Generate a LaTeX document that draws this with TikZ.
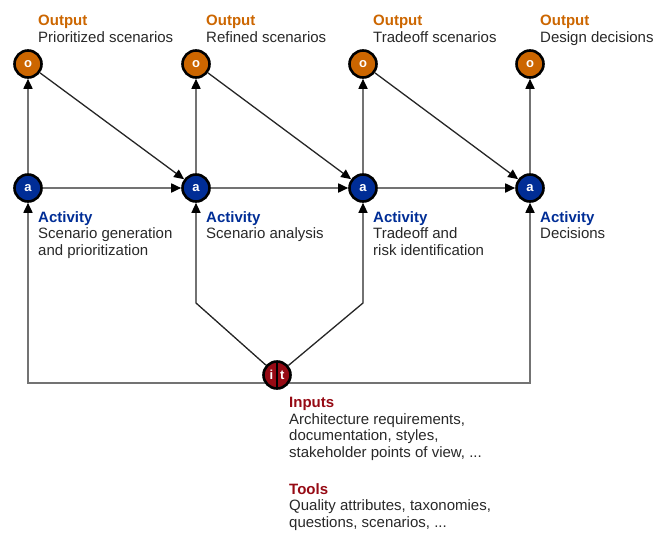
\documentclass[tikz,border=0pt]{standalone}
\usepackage{fontspec}
\setmainfont{Liberation Sans}
\usetikzlibrary{arrows.meta}
\definecolor{outorange}{RGB}{204,102,0}
\definecolor{actblue}{RGB}{0,45,150}
\definecolor{inred}{RGB}{150,10,20}
\definecolor{textgray}{RGB}{40,40,40}
\begin{document}
\begin{tikzpicture}[x=1pt,y=-1pt,
		every node/.append style={inner sep=0pt},
		dot/.style={circle,draw=black,line width=2.6pt,minimum size=27pt,text=white,font=\bfseries\fontsize{13}{13}\selectfont},
		outdot/.style={dot,fill=outorange},
		actdot/.style={dot,fill=actblue},
		caption/.style={anchor=north west,align=left,text=textgray,font=\fontsize{15}{16.5}\selectfont},
		flow/.style={draw=black!55,line width=1.7pt,-{Triangle[length=10pt,width=9pt,color=black]}},
		feed/.style={draw=black!85,line width=1.3pt,-{Triangle[length=10pt,width=9pt,color=black]}}]
	\useasboundingbox (0,0) rectangle (658,533);
	\foreach \x [count=\i] in {28,196,363,530} {
		\node[actdot] (a\i) at (\x,188) {a};
		\node[outdot] (o\i) at (\x,64) {o};
		\draw[flow] (a\i) -- (o\i);
	}
	\foreach \i [count=\j from 2] in {1,2,3} {
		\draw[flow] (a\i) -- (a\j);
		\draw[feed] (o\i) -- (a\j);
	}
	\node[caption] (out1) at (38,15) {\textcolor{outorange}{\bfseries Output}\\Prioritized scenarios};
	\node[caption] (out2) at (206,15) {\textcolor{outorange}{\bfseries Output}\\Refined scenarios};
	\node[caption] (out3) at (373,15) {\textcolor{outorange}{\bfseries Output}\\Tradeoff scenarios};
	\node[caption] (out4) at (540,15) {\textcolor{outorange}{\bfseries Output}\\Design decisions};
	\node[caption] (act1) at (38,211) {\textcolor{actblue}{\bfseries Activity}\\Scenario generation\\and prioritization};
	\node[caption] (act2) at (206,211) {\textcolor{actblue}{\bfseries Activity}\\Scenario analysis};
	\node[caption] (act3) at (373,211) {\textcolor{actblue}{\bfseries Activity}\\Tradeoff and\\risk identification};
	\node[caption] (act4) at (540,211) {\textcolor{actblue}{\bfseries Activity}\\Decisions};
	\coordinate (bus) at (277,383);
	\coordinate (k2) at (196,303);
	\coordinate (k3) at (363,303);
	\draw[flow] (bus) -| (a1);
	\draw[flow] (bus) -| (a4);
	\node[dot,fill=inred,path picture={\draw[line width=1.4pt] (path picture bounding box.north) -- (path picture bounding box.south);}] (it) at (277,375) {i\hspace{7pt}t};
	\draw[feed] (it) -- (k2) -- (a2);
	\draw[feed] (it) -- (k3) -- (a3);
	\node[caption] (inputs) at (289,397) {\textcolor{inred}{\bfseries Inputs}\\Architecture requirements,\\documentation, styles,\\stakeholder points of view, ...};
	\node[caption] (tools) at (289,483) {\textcolor{inred}{\bfseries Tools}\\Quality attributes, taxonomies,\\questions, scenarios, ...};
\end{tikzpicture}
\end{document}
